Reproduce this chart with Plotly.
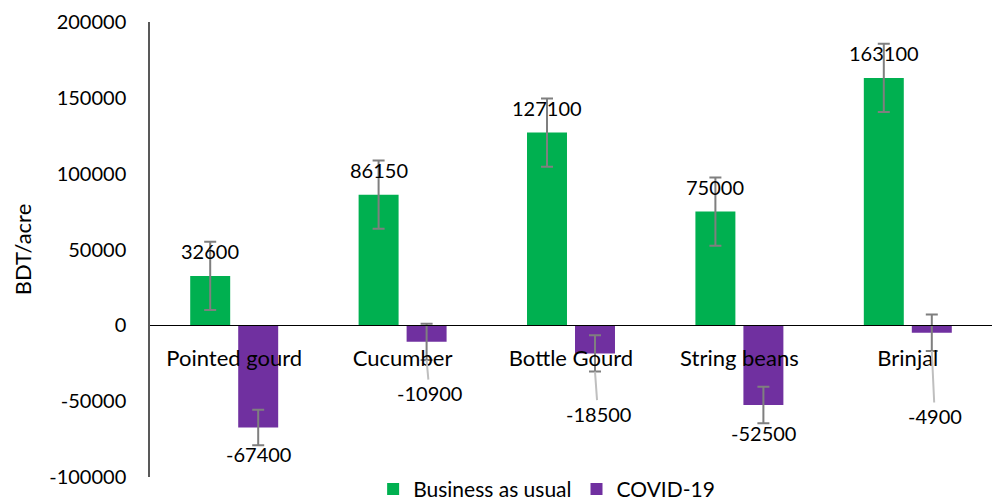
import plotly.graph_objects as go

categories = ["Pointed gourd", "Cucumber", "Bottle Gourd", "String beans", "Brinjal"]
business_as_usual = [32600, 86150, 127100, 75000, 163100]
covid19 = [-67400, -10900, -18500, -52500, -4900]
bau_error = [22500, 22500, 22500, 22500, 22500]
covid_error = [11700, 12000, 12000, 12000, 12000]
y_tick_values = [-100000, -50000, 0, 50000, 100000, 150000, 200000]
y_tick_labels = ["-100000", "-50000", "0", "50000", "100000", "150000", "200000"]

# label placement (pixels) for COVID-19 labels; None -> no leader line
covid_label_shift = [-26, None, None, -28, None]
covid_leader_offset = [None, 33, 42, None, 65]

GREEN = "#00B050"
PURPLE = "#7030A0"
ERR = "#7F7F7F"
FONT = "Lato"
NUM = dict(family=FONT, size=20, color="black")
WORD = dict(family=FONT, size=22, color="black")

fig = go.Figure()
fig.add_trace(go.Bar(
    name="Business as usual", x=categories, y=business_as_usual,
    marker=dict(color=GREEN, line=dict(width=0)),
    error_y=dict(type="data", array=bau_error, color=ERR, thickness=2, width=6),
))
fig.add_trace(go.Bar(
    name="COVID-19", x=categories, y=covid19,
    marker=dict(color=PURPLE, line=dict(width=0)),
    error_y=dict(type="data", array=covid_error, color=ERR, thickness=2, width=6),
))

annotations = []
for cat, v in zip(categories, business_as_usual):
    annotations.append(dict(
        x=cat, y=v, xref="x", yref="y", text=str(v), showarrow=False,
        xshift=-24, yshift=25, yanchor="middle", xanchor="center", font=NUM,
    ))
for cat, v, e, shift, lead in zip(categories, covid19, covid_error,
                                  covid_label_shift, covid_leader_offset):
    if lead is None:
        annotations.append(dict(
            x=cat, y=v, xref="x", yref="y", text=str(v), showarrow=False,
            xshift=24, yshift=shift, yanchor="middle", xanchor="center", font=NUM,
        ))
    else:
        annotations.append(dict(
            x=cat, y=v - e, xref="x", yref="y", text=str(v), showarrow=True,
            arrowhead=0, arrowwidth=2, arrowcolor="#BFBFBF",
            ax=3, ay=lead, xshift=24, standoff=0, font=NUM,
        ))

fig.update_layout(
    template="none",
    width=998, height=503,
    margin=dict(l=150, r=6, t=22, b=26, autoexpand=False),
    paper_bgcolor="white", plot_bgcolor="white",
    barmode="group", bargap=0.43, bargroupgap=0.167,
    font=WORD,
    showlegend=True,
    legend=dict(orientation="h", x=0.265, xanchor="left", y=-0.027, yanchor="middle",
                font=dict(family=FONT, size=21, color="black"),
                bgcolor="rgba(0,0,0,0)", itemclick=False),
    annotations=annotations,
    xaxis=dict(
        anchor="free", position=(0 - (-100000)) / 300000,
        showline=True, linecolor="black", linewidth=1,
        showgrid=False, zeroline=False, ticks="",
        ticklabelstandoff=13, tickfont=WORD,
    ),
    yaxis=dict(
        range=[-100000, 200000], tickvals=y_tick_values, ticktext=y_tick_labels,
        showline=True, linecolor="#595959", linewidth=1.5,
        showgrid=False, zeroline=False, ticks="",
        ticklabelstandoff=18, tickfont=NUM,
        title=dict(text="BDT/acre", standoff=12, font=WORD),
    ),
)

fig.write_html("out.html", config={"displayModeBar": False},
               post_script="document.body.style.margin='0';document.body.style.overflow='hidden';")
